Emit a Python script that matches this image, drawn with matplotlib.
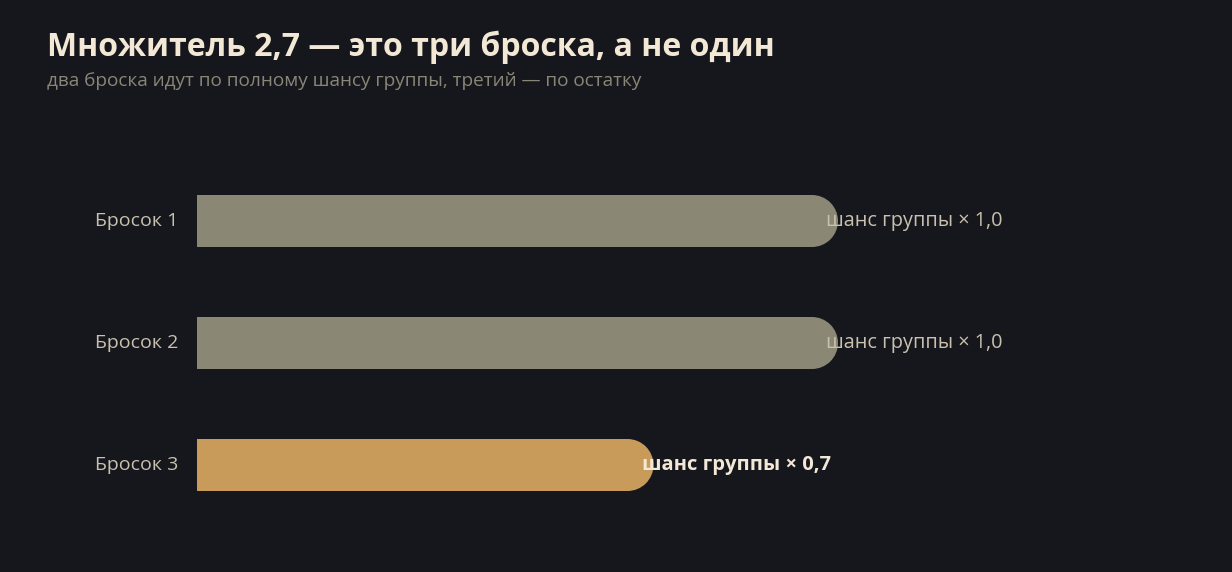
import matplotlib
matplotlib.use("Agg")
import matplotlib.pyplot as plt
from matplotlib.patches import Ellipse, Rectangle

categories = ["Бросок 1", "Бросок 2", "Бросок 3"]
values = [1.0, 1.0, 0.7]
value_labels = ["шанс группы × 1,0", "шанс группы × 1,0", "шанс группы × 0,7"]
highlight = [False, False, True]

BG = "#16171d"
GREY = "#8b8775"
GOLD = "#c89b5b"
CREAM = "#f2e8d5"
MUTED = "#8a8677"
LABEL = "#c9c1ae"

W, H = 1232, 572
fig = plt.figure(figsize=(W / 100, H / 100), dpi=100, facecolor=BG)
plt.rcParams['font.family'] = ['Open Sans', 'DejaVu Sans']

x0_px, x1_px = 197, 812          # value 0 and value 1 in pixels
top_px, bot_px = 160, 526
ax = fig.add_axes([x0_px / W, 1 - bot_px / H, (x1_px - x0_px) / W, (bot_px - top_px) / H])
ax.set_facecolor(BG)
ax.set_xlim(0, 1)
ax.set_ylim(len(values) - 0.5, -0.5)
ax.axis("off")

bar_h_px = 52
px_per_x = (x1_px - x0_px)
px_per_y = (bot_px - top_px) / len(values)
bh = bar_h_px / px_per_y
r_px = bar_h_px / 2
rx = r_px / px_per_x

for i, (v, hl) in enumerate(zip(values, highlight)):
    c = GOLD if hl else GREY
    ax.add_patch(Rectangle((0, i - bh / 2), v, bh, facecolor=c, edgecolor="none",
                           linewidth=0, clip_on=False))
    ax.add_patch(Ellipse((v, i), 2 * rx, bh, facecolor=c, edgecolor="none",
                         linewidth=0, clip_on=False))
    ax.annotate(value_labels[i], xy=(v, i), xytext=(14 * 0.72, 0), textcoords="offset points",
                ha="left", va="center", fontsize=14.5 if hl else 14.3,
                fontweight="bold" if hl else "normal",
                color=CREAM if hl else LABEL, annotation_clip=False)
    ax.annotate(categories[i], xy=(0, i), xytext=(-19 * 0.72, 0), textcoords="offset points",
                ha="right", va="center", fontsize=14, color=LABEL, annotation_clip=False)

fig.text(47 / W, 1 - 56 / H, "Множитель 2,7 — это три броска, а не один",
         fontsize=23, fontweight="bold", color=CREAM, ha="left", va="baseline")
fig.text(47 / W, 1 - 86 / H, "два броска идут по полному шансу группы, третий — по остатку",
         fontsize=13.7, color=MUTED, ha="left", va="baseline")

fig.savefig("out.png", dpi=100, facecolor=BG)
